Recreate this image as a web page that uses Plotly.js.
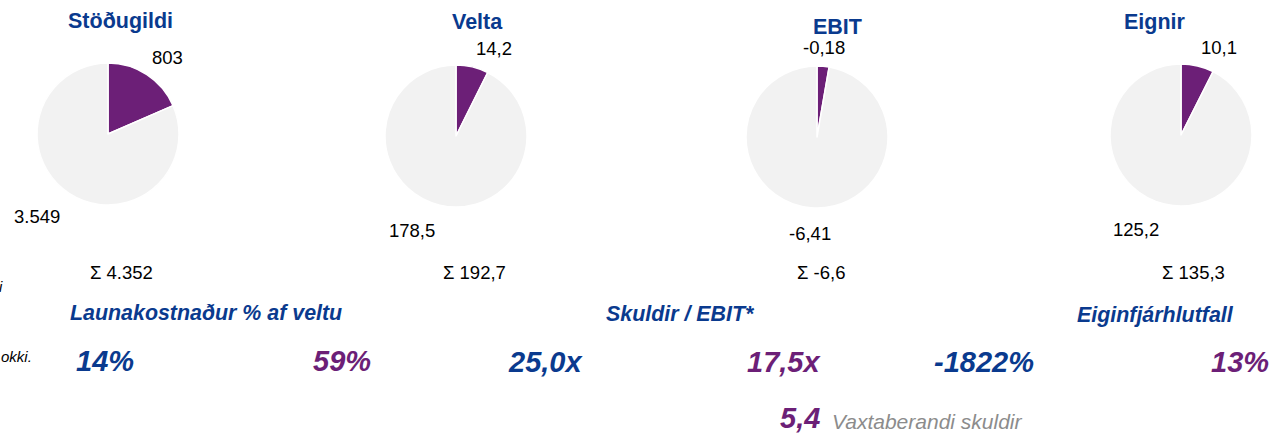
<!DOCTYPE html>
<html>
<head>
<meta charset="utf-8">
<script src="https://cdn.plot.ly/plotly-3.0.1.min.js"></script>
<style>html,body{margin:0;padding:0;background:#fff;}#chart{width:1270px;height:433px;}</style>
</head>
<body>
<div id="chart"></div>
<script>
// ---- data ----
var pieTitles = ["Stöðugildi", "Velta", "EBIT", "Eignir"];
var shareValues = [803, 14.2, -0.18, 10.1];     // purple slice
var restValues = [3549, 178.5, -6.41, 125.2];   // grey slice
var valueDecimals = [0, 1, 2, 1];
var sumDecimals = [0, 1, 1, 1];

var kpiTitles = ["Launakostnaður % af veltu", "Skuldir / EBIT*", "Eiginfjárhlutfall"];
var kpiLeftValues = [14, 25.0, -1822];
var kpiRightValues = [59, 17.5, 13];
var kpiDecimals = [0, 1, 0];
var kpiSuffix = ["%", "x", "%"];
var debtValue = 5.4;
var debtLabel = "Vaxtaberandi skuldir";
var noteFragments = ["i", "okki."];

// ---- helpers ----
function fmt(v, dec, group) {
  var neg = v < 0;
  var s = Math.abs(v).toFixed(dec);
  var parts = s.split(".");
  var ip = group === false ? parts[0] : parts[0].replace(/\B(?=(\d{3})+(?!\d))/g, ".");
  var out = ip + (parts.length > 1 ? "," + parts[1] : "");
  return (neg ? "-" : "") + out;
}

var W = 1270, H = 433;
function px(x) { return x / W; }
function py(y) { return 1 - y / H; }

var BLUE = "#0A3A8E";
var PURPLE = "#6C1F77";
var GREY = "#F2F2F2";
var FONT = "Liberation Sans, Arial, sans-serif";

// layout geometry of pies
var centers = [[108, 134], [456, 136], [817, 137], [1181, 135]];
var R = 71;
var titlePos = [[120, 21], [477, 22], [837, 27], [1155, 22]];
var sumPos = [[121, 272], [474, 272], [821, 272], [1193, 272]];

var traces = [];
var annotations = [];

for (var i = 0; i < 4; i++) {
  var cx = centers[i][0], cy = centers[i][1];
  var vals = [Math.abs(shareValues[i]), Math.abs(restValues[i])];
  traces.push({
    type: "pie",
    values: vals,
    labels: ["a", "b"],
    sort: false,
    direction: "clockwise",
    rotation: 0,
    textinfo: "none",
    hoverinfo: "none",
    showlegend: false,
    marker: { colors: [PURPLE, GREY], line: { color: "#ffffff", width: 1.5 } },
    domain: { x: [px(cx - R), px(cx + R)], y: [py(cy + R), py(cy - R)] }
  });

  // title
  annotations.push({
    xref: "paper", yref: "paper", x: px(titlePos[i][0]), y: py(titlePos[i][1]),
    xanchor: "center", yanchor: "middle", showarrow: false,
    text: "<b>" + pieTitles[i] + "</b>",
    font: { family: FONT, size: 21.5, color: BLUE }
  });

  // slice labels, placed along each slice's mid angle
  var total = vals[0] + vals[1];
  var a0 = 0;
  var labelVals = [shareValues[i], restValues[i]];
  for (var k = 0; k < 2; k++) {
    var frac = vals[k] / total;
    var mid = (a0 + frac / 2) * 2 * Math.PI;
    a0 += frac;
    var sx = Math.sin(mid), cyv = Math.cos(mid);
    var D = cyv >= 0 ? R + 6 : R + 13;
    annotations.push({
      xref: "paper", yref: "paper",
      x: px(cx + D * sx), y: py(cy - D * cyv),
      xanchor: Math.abs(sx) < 0.2 ? "center" : (sx >= 0 ? "left" : "right"),
      yanchor: cyv >= 0 ? "bottom" : "top",
      showarrow: false,
      text: fmt(labelVals[k], valueDecimals[i]),
      font: { family: FONT, size: 18.5, color: "#000000" }
    });
  }

  // sum label
  var sum = shareValues[i] + restValues[i];
  annotations.push({
    xref: "paper", yref: "paper", x: px(sumPos[i][0]), y: py(sumPos[i][1]),
    xanchor: "center", yanchor: "middle", showarrow: false,
    text: "Σ " + fmt(sum, sumDecimals[i]),
    font: { family: FONT, size: 18.5, color: "#000000" }
  });
}

// KPI section
var kpiTitlePos = [[206, 313], [680, 314], [1155, 315]];
var kpiLeftPos = [[105, 361], [545, 362], [984, 362]];
var kpiRightPos = [[342, 361], [784, 362], [1240, 362]];
for (var j = 0; j < 3; j++) {
  annotations.push({
    xref: "paper", yref: "paper", x: px(kpiTitlePos[j][0]), y: py(kpiTitlePos[j][1]),
    xanchor: "center", yanchor: "middle", showarrow: false,
    text: "<b><i>" + kpiTitles[j] + "</i></b>",
    font: { family: FONT, size: 21.4, color: BLUE }
  });
  annotations.push({
    xref: "paper", yref: "paper", x: px(kpiLeftPos[j][0]), y: py(kpiLeftPos[j][1]),
    xanchor: "center", yanchor: "middle", showarrow: false,
    text: "<b><i>" + fmt(kpiLeftValues[j], kpiDecimals[j], false) + kpiSuffix[j] + "</i></b>",
    font: { family: FONT, size: 29, color: BLUE }
  });
  annotations.push({
    xref: "paper", yref: "paper", x: px(kpiRightPos[j][0]), y: py(kpiRightPos[j][1]),
    xanchor: "center", yanchor: "middle", showarrow: false,
    text: "<b><i>" + fmt(kpiRightValues[j], kpiDecimals[j], false) + kpiSuffix[j] + "</i></b>",
    font: { family: FONT, size: 29, color: PURPLE }
  });
}

// interest-bearing debt
annotations.push({
  xref: "paper", yref: "paper", x: px(822), y: py(418),
  xanchor: "right", yanchor: "middle", showarrow: false,
  text: "<b><i>" + fmt(debtValue, 1) + "</i></b>",
  font: { family: FONT, size: 29, color: PURPLE }
});
annotations.push({
  xref: "paper", yref: "paper", x: px(830), y: py(421),
  xanchor: "left", yanchor: "middle", showarrow: false,
  text: "<i>" + debtLabel + "</i>",
  font: { family: FONT, size: 21, color: "#8C8C8C" }
});

// clipped note fragments at the left edge
annotations.push({
  xref: "paper", yref: "paper", x: px(5), y: py(286),
  xanchor: "right", yanchor: "middle", showarrow: false,
  text: "<i>" + noteFragments[0] + "</i>",
  font: { family: FONT, size: 15, color: "#000000" }
});
annotations.push({
  xref: "paper", yref: "paper", x: px(34), y: py(356),
  xanchor: "right", yanchor: "middle", showarrow: false,
  text: "<i>" + noteFragments[1] + "</i>",
  font: { family: FONT, size: 15, color: "#000000" }
});

var layout = {
  width: W, height: H,
  margin: { l: 0, r: 0, t: 0, b: 0 },
  paper_bgcolor: "#ffffff",
  plot_bgcolor: "#ffffff",
  showlegend: false,
  annotations: annotations,
  font: { family: FONT }
};

Plotly.newPlot("chart", traces, layout, { staticPlot: true, displayModeBar: false });
</script>
</body>
</html>
